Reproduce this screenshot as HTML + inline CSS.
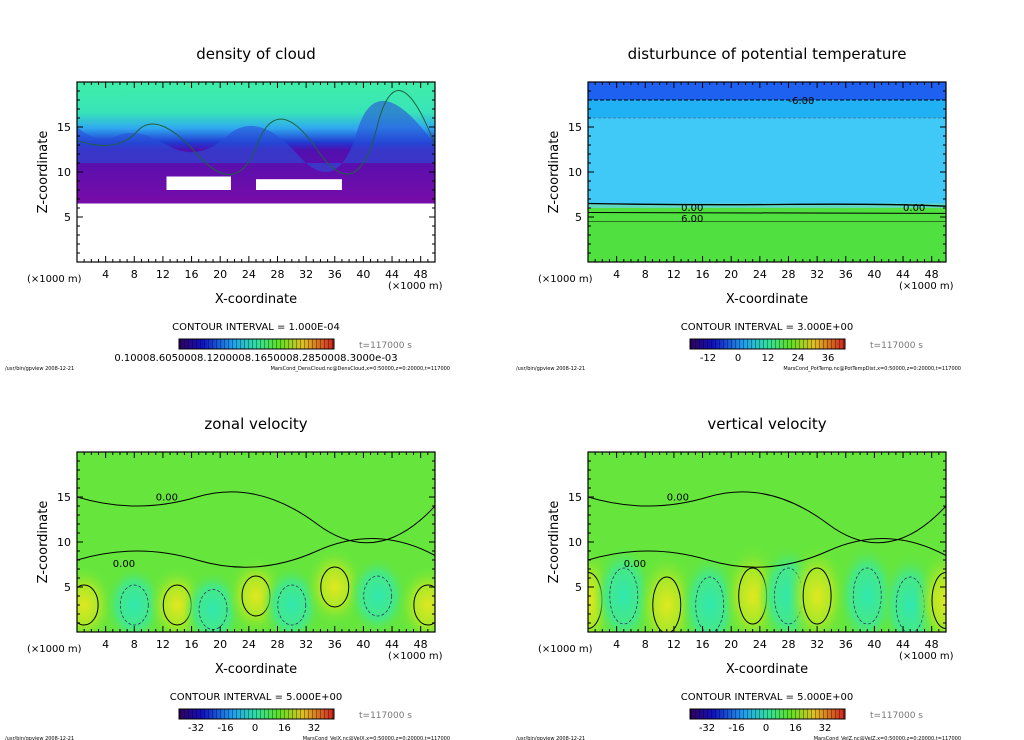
<!DOCTYPE html>
<html><head><meta charset="utf-8">
<style>
html,body{margin:0;padding:0;background:#fff;}
svg{display:block;font-family:"DejaVu Sans","Liberation Sans",sans-serif;}
</style></head>
<body>
<svg id="fig" width="1024" height="740" viewBox="0 0 1024 740" xmlns="http://www.w3.org/2000/svg">
<defs>
<linearGradient id="cbar" x1="0" x2="1" y1="0" y2="0">
<stop offset="0" stop-color="#300060"/><stop offset="0.15" stop-color="#1010c0"/><stop offset="0.35" stop-color="#20a0f0"/><stop offset="0.5" stop-color="#30e0a0"/><stop offset="0.65" stop-color="#60e020"/><stop offset="0.8" stop-color="#e0c020"/><stop offset="1" stop-color="#d02020"/>
</linearGradient>
<linearGradient id="cloudG" x1="0" x2="0" y1="0" y2="1">
<stop offset="0" stop-color="#40eea8"/><stop offset="0.25" stop-color="#38e4b8"/><stop offset="0.38" stop-color="#30a8f0"/><stop offset="0.5" stop-color="#2038d0"/><stop offset="0.56" stop-color="#5010b0"/><stop offset="1" stop-color="#780ca8"/>
</linearGradient>
<pattern id="stripes" width="4" height="10" patternUnits="userSpaceOnUse"><rect x="3" width="1" height="10" fill="rgba(0,0,0,0.35)"/></pattern>
<radialGradient id="gPos"><stop offset="0" stop-color="#e0e820"/><stop offset="0.5" stop-color="#a8e828"/><stop offset="1" stop-color="#66e63c" stop-opacity="0"/></radialGradient>
<radialGradient id="gNeg"><stop offset="0" stop-color="#30e8b0"/><stop offset="0.6" stop-color="#48e880"/><stop offset="1" stop-color="#66e63c" stop-opacity="0"/></radialGradient>
<clipPath id="clipP"><rect x="0" y="0" width="358" height="180"/></clipPath>
</defs>
</svg>
<script>
const xTicks=[4,8,12,16,20,24,28,32,36,40,44,48];
const zTicks=[5,10,15];
const titles=["density of cloud","disturbunce of potential temperature","zonal velocity","vertical velocity"];
const intervals=["CONTOUR INTERVAL = 1.000E-04","CONTOUR INTERVAL = 3.000E+00","CONTOUR INTERVAL = 5.000E+00","CONTOUR INTERVAL = 5.000E+00"];
const cbLabels=[["0.1000E-03"],["-12","0","12","24","36"],["-32","-16","0","16","32"],["-32","-16","0","16","32"]];
const files=["MarsCond_DensCloud.nc@DensCloud,x=0:50000,z=0:20000,t=117000","MarsCond_PotTemp.nc@PotTempDist,x=0:50000,z=0:20000,t=117000","MarsCond_VelX.nc@VelX,x=0:50000,z=0:20000,t=117000","MarsCond_VelZ.nc@VelZ,x=0:50000,z=0:20000,t=117000"];
// zonal velocity blobs (km x, km z, sign)
const uX=[1,8,14,19,25,30,36,42,49];
const uZ=[3,3,3,2.5,4,3,5,4,3];
const uSign=[1,-1,1,-1,1,-1,1,-1,1];
// vertical velocity blobs
const wX=[0,5,11,17,23,28,32,39,45,50];
const wZ=[3.5,4,3,3,4,4,4,4,3,3.5];
const wSign=[1,-1,1,-1,1,-1,1,-1,-1,1];
// pot temp band levels (z km)
const ptBands=[[18,20,"#1e60f0"],[16,18,"#20b0f4"],[6.5,16,"#40c8f6"],[6,6.5,"#60d8c0"],[0,6,"#50e040"]];

const NS="http://www.w3.org/2000/svg";
const fig=document.getElementById('fig');
function el(tag,attrs,parent,text){const e=document.createElementNS(NS,tag);for(const k in attrs)e.setAttribute(k,attrs[k]);if(text!==undefined)e.textContent=text;(parent||fig).appendChild(e);return e;}
const W=358,H=180;
const sx=v=>v/50*W, sz=v=>H-v/20*H;

function panel(i,ox,oy){
  const g=el('g',{transform:`translate(${ox},${oy})`});
  
  
  const t=el('text',{x:W/2,y:-23,'text-anchor':'middle','font-size':15,fill:'#000'},g,titles[i]);
  
  const plot=el('g',{'clip-path':'url(#clipP)'},g);
  
  if(i===0){
    el('rect',{x:0,y:0,width:W,height:H,fill:'#fff'},plot);
    const r=el('rect',{x:0,y:0,width:W,height:sz(6.5),fill:'url(#cloudG)'},plot);
    
    el('path',{d:`M0 ${sz(15)} Q20 ${sz(13)} 40 ${sz(14)} T90 ${sz(13)} T150 ${sz(14)} T220 ${sz(12)} T280 ${sz(14.5)} T358 ${sz(13)} L358 ${sz(11)} L0 ${sz(11)} Z`,fill:'#2850d8',opacity:0.6},plot);
    el('path',{d:`M0 ${sz(13.5)} Q40 ${sz(12)} 60 ${sz(14.5)} T120 ${sz(12)} T180 ${sz(13)} T240 ${sz(12.5)} T300 ${sz(15)} T358 ${sz(13)}`,fill:'none',stroke:'#206040','stroke-width':1},plot);
    el('rect',{x:sx(12.5),y:sz(9.5),width:sx(9),height:sz(8)-sz(9.5),fill:'#fff'},plot);
    el('rect',{x:sx(25),y:sz(9.2),width:sx(12),height:sz(8)-sz(9.2),fill:'#fff'},plot);
  } else if(i===1){
    ptBands.forEach(b=>{const r=el('rect',{x:0,y:sz(b[1]),width:W,height:sz(b[0])-sz(b[1]),fill:b[2]},plot);});
    el('line',{x1:0,x2:W,y1:sz(18),y2:sz(18),stroke:'#000','stroke-dasharray':'4,2'},plot);
    el('line',{x1:0,x2:W,y1:sz(16),y2:sz(16),stroke:'#555','stroke-dasharray':'3,2','stroke-width':.6},plot);
    el('path',{d:`M0 ${sz(6.5)} Q100 ${sz(6.3)} 200 ${sz(6.4)} T358 ${sz(6.2)}`,fill:'none',stroke:'#000','stroke-width':1.3},plot);
    el('path',{d:`M0 ${sz(5.5)} L${W} ${sz(5.4)}`,stroke:'#000',fill:'none'},plot);
    el('path',{d:`M0 ${sz(4.5)} L${W} ${sz(4.5)}`,stroke:'#000',fill:'none','stroke-width':.6},plot);
    el('text',{x:sx(28),y:sz(18)+4,'font-size':10},plot,'-6.00');
    el('text',{x:sx(13),y:sz(6)+3,'font-size':10},plot,'0.00');
    el('text',{x:sx(13),y:sz(4.8)+3,'font-size':10},plot,'6.00');
    el('text',{x:sx(44),y:sz(6)+3,'font-size':10},plot,'0.00');
  } else {
    el('rect',{x:0,y:0,width:W,height:H,fill:'#66e63c'},plot);
    const X=i===2?uX:wX,Z=i===2?uZ:wZ,S=i===2?uSign:wSign;
    X.forEach((x,k)=>{
      const e=el('ellipse',{cx:sx(x),cy:sz(Z[k]),rx:30,ry:i===2?40:52,fill:S[k]>0?'url(#gPos)':'url(#gNeg)'},plot);
      
      el('ellipse',{cx:sx(x),cy:sz(Z[k]),rx:14,ry:i===2?20:28,fill:'none',stroke:S[k]>0?'#000':'#226','stroke-width':S[k]>0?1:.7,'stroke-dasharray':S[k]>0?'none':'3,2'},plot);
    });
    el('path',{d:`M0 ${sz(8)} Q60 ${sz(10)} 120 ${sz(8)} T240 ${sz(9)} T358 ${sz(8.5)}`,fill:'none',stroke:'#000'},plot);
    el('path',{d:`M0 ${sz(15)} Q60 ${sz(13)} 120 ${sz(15)} T240 ${sz(12)} T358 ${sz(14)}`,fill:'none',stroke:'#000'},plot);
    el('text',{x:sx(11),y:sz(14.6),'font-size':10},plot,'0.00');
    el('text',{x:sx(5),y:sz(7.2),'font-size':10},plot,'0.00');
  }
  const fr=el('rect',{x:0,y:0,width:W,height:H,fill:'none',stroke:'#000','stroke-width':1.2},g);
  
  for(let v=1;v<50;v++){const l=v%4===0?6:3;el('line',{x1:sx(v),x2:sx(v),y1:H,y2:H-l,stroke:'#000'},g);el('line',{x1:sx(v),x2:sx(v),y1:0,y2:l,stroke:'#000'},g);}
  for(let v=1;v<20;v++){const l=v%5===0?6:3;el('line',{x1:0,x2:l,y1:sz(v),y2:sz(v),stroke:'#000'},g);el('line',{x1:W,x2:W-l,y1:sz(v),y2:sz(v),stroke:'#000'},g);}
  xTicks.forEach(v=>{const t=el('text',{x:sx(v),y:H+16,'text-anchor':'middle','font-size':11},g,String(v));});
  zTicks.forEach(v=>{const t=el('text',{x:-6,y:sz(v)+4,'text-anchor':'end','font-size':11},g,String(v));});
  el('text',{x:-50,y:H+20,'font-size':10},g,'(×1000 m)');
  el('text',{x:W-47,y:H+27,'font-size':10},g,'(×1000 m)');
  const xt=el('text',{x:W/2,y:H+41,'text-anchor':'middle','font-size':13},g,'X-coordinate');
  
  const zt=el('text',{x:-30,y:H/2,'text-anchor':'middle','font-size':13,transform:`rotate(-90 -30 ${H/2})`},g,'Z-coordinate');
  
  const ci=el('text',{x:W/2,y:H+68,'text-anchor':'middle','font-size':10},g,intervals[i]);
  
  const cb=el('g',{},g);
  el('rect',{x:102,y:H+77,width:155,height:10,fill:'url(#cbar)',stroke:'#000'},cb);
  el('rect',{x:102,y:H+77,width:155,height:10,fill:'url(#stripes)'},cb);
  const labs=cbLabels[i];
  if(i===0){el('text',{x:179,y:H+99,'text-anchor':'middle','font-size':10},cb,'0.10008.6050008.1200008.1650008.2850008.3000e-03');}
  else labs.forEach((s,k)=>{el('text',{x:(i===1?120:119)+k*(i===1?30:29.5),y:H+99,'text-anchor':'middle','font-size':10},cb,s);});
  el('text',{x:282,y:H+86,'font-size':9,fill:'#777'},g,'t=117000 s');
  el('text',{x:-72,y:H+108,'font-size':5},g,'/usr/bin/gpview   2008-12-21');
  el('text',{x:W+15,y:H+108,'text-anchor':'end','font-size':5},g,files[i]);
}
panel(0,77,82);panel(1,588,82);panel(2,77,452);panel(3,588,452);
</script>
</body></html>
